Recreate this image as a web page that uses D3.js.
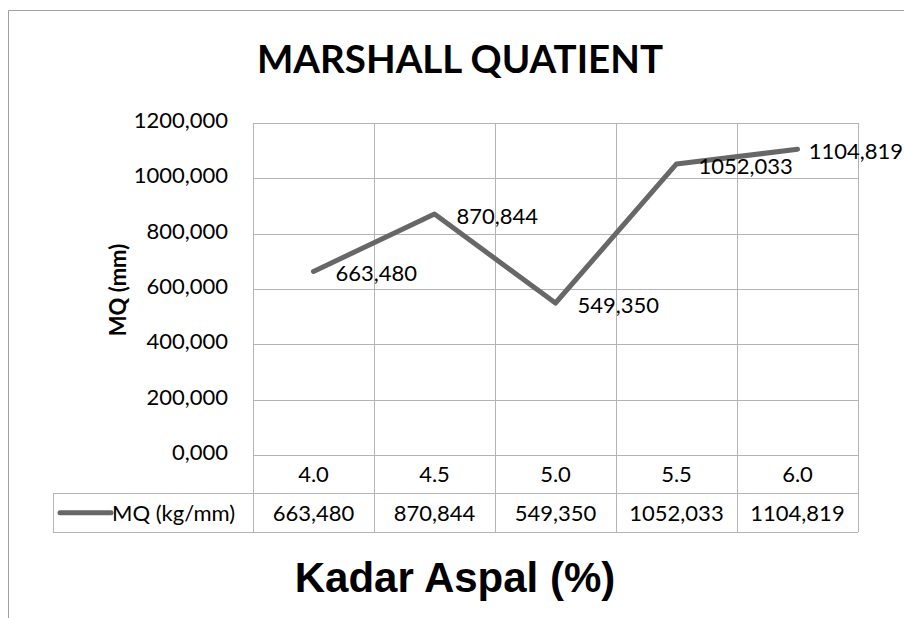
<!DOCTYPE html>
<html>
<head>
<meta charset="utf-8">
<script src="https://cdn.jsdelivr.net/npm/d3@7"></script>
<style>
  body { margin: 0; background: #fff; }
  svg { display: block; }
  text { font-family: Lato, "Open Sans", sans-serif; fill: #000; }
</style>
</head>
<body>
<div id="chart"></div>
<script>
// Chart data
const categories = ['4.0', '4.5', '5.0', '5.5', '6.0'];
const mqValues = [663.480, 870.844, 549.350, 1052.033, 1104.819];
const valueLabels = ['663,480', '870,844', '549,350', '1052,033', '1104,819'];
const yTicks = [0, 200, 400, 600, 800, 1000, 1200];
const seriesName = 'MQ (kg/mm)';

const W = 904, H = 618;
const plot = { left: 253, right: 858, top: 123, bottom: 455 };
const rowH = 38.5;
const legendLeft = 53;
const lineColor = '#676767';
const gridColor = '#b4b4b4';
const fontSize = 22;

// number format like "1200,000"
const fmt = v => d3.format('.3f')(v).replace('.', ',');

const svg = d3.select('#chart').append('svg')
    .attr('width', W)
    .attr('height', H);

// chart frame (only top and left edges visible)
svg.append('path')
    .attr('d', `M8.5,${H} V10.5 H${W}`)
    .attr('fill', 'none')
    .attr('stroke', '#a0a0a0')
    .attr('stroke-width', 1);

const x = d3.scaleBand()
    .domain(categories)
    .range([plot.left, plot.right])
    .paddingInner(0)
    .paddingOuter(0);

const y = d3.scaleLinear()
    .domain([0, 1200])
    .range([plot.bottom, plot.top]);

// horizontal gridlines + y labels
const yAxis = svg.append('g')
    .attr('transform', `translate(${plot.left},0)`)
    .call(d3.axisLeft(y)
        .tickValues(yTicks)
        .tickSize(-(plot.right - plot.left))
        .tickPadding(25)
        .tickFormat(fmt));
yAxis.select('.domain').remove();
yAxis.selectAll('.tick line').attr('stroke', gridColor).attr('shape-rendering', 'crispEdges');
yAxis.selectAll('.tick text')
    .attr('font-size', fontSize)
    .attr('dy', '0.2em')
    .style('font-family', 'Lato, sans-serif')
    .attr('fill', '#000');

// vertical gridlines (category boundaries), extended through the data table
const bounds = categories.map(c => x(c)).concat([plot.right]);
const tableBottom = plot.bottom + rowH * 2;
svg.append('g').selectAll('line')
    .data(bounds)
    .join('line')
    .attr('x1', d => d).attr('x2', d => d)
    .attr('y1', plot.top)
    .attr('y2', tableBottom)
    .attr('stroke', gridColor)
    .attr('shape-rendering', 'crispEdges');

// data table lines
const table = svg.append('g').attr('shape-rendering', 'crispEdges');
table.append('line')
    .attr('x1', plot.left).attr('x2', plot.right)
    .attr('y1', plot.bottom).attr('y2', plot.bottom)
    .attr('stroke', gridColor);
[plot.bottom + rowH, tableBottom].forEach(yy => {
    table.append('line')
        .attr('x1', legendLeft).attr('x2', plot.right)
        .attr('y1', yy).attr('y2', yy)
        .attr('stroke', gridColor);
});
table.append('line')
    .attr('x1', legendLeft).attr('x2', legendLeft)
    .attr('y1', plot.bottom + rowH).attr('y2', tableBottom)
    .attr('stroke', gridColor);

// category labels row
table.selectAll('text.cat')
    .data(categories)
    .join('text')
    .attr('class', 'cat')
    .attr('x', d => x(d) + x.bandwidth() / 2)
    .attr('y', plot.bottom + rowH / 2)
    .attr('dy', '0.36em')
    .attr('text-anchor', 'middle')
    .attr('font-size', fontSize)
    .text(d => d);

// value row
table.selectAll('text.val')
    .data(valueLabels)
    .join('text')
    .attr('class', 'val')
    .attr('x', (d, i) => x(categories[i]) + x.bandwidth() / 2)
    .attr('y', plot.bottom + rowH * 1.5)
    .attr('dy', '0.36em')
    .attr('text-anchor', 'middle')
    .attr('font-size', fontSize)
    .text(d => d);

// legend key in table
table.append('line')
    .attr('x1', legendLeft + 7).attr('x2', legendLeft + 58)
    .attr('y1', plot.bottom + rowH * 1.5).attr('y2', plot.bottom + rowH * 1.5)
    .attr('stroke', lineColor)
    .attr('stroke-width', 5)
    .attr('stroke-linecap', 'round')
    .attr('shape-rendering', 'auto');
table.append('text')
    .attr('x', legendLeft + 59)
    .attr('y', plot.bottom + rowH * 1.5)
    .attr('dy', '0.36em')
    .attr('font-size', fontSize)
    .text(seriesName);

// series line
const line = d3.line()
    .x((d, i) => x(categories[i]) + x.bandwidth() / 2)
    .y(d => y(d));

svg.append('path')
    .datum(mqValues)
    .attr('d', line)
    .attr('fill', 'none')
    .attr('stroke', lineColor)
    .attr('stroke-width', 5)
    .attr('stroke-linejoin', 'round')
    .attr('stroke-linecap', 'round');

// data labels, to the right of each point, kept inside the chart area
const labels = svg.append('g');
labels.selectAll('text')
    .data(mqValues)
    .join('text')
    .attr('y', d => y(d) + 2)
    .attr('dy', '0.36em')
    .attr('font-size', fontSize)
    .text((d, i) => valueLabels[i])
    .each(function (d, i) {
        const w = this.getComputedTextLength();
        const px = x(categories[i]) + x.bandwidth() / 2;
        d3.select(this).attr('x', Math.min(px + 22, W - w - 1));
    });

// title
svg.append('text')
    .attr('x', 460)
    .attr('y', 73)
    .attr('text-anchor', 'middle')
    .attr('font-size', 38.5)
    .attr('font-weight', 'bold')
    .text('MARSHALL QUATIENT');

// y axis title
svg.append('text')
    .attr('transform', 'translate(126,290) rotate(-90)')
    .attr('text-anchor', 'middle')
    .attr('font-size', 22)
    .attr('font-weight', 'bold')
    .text('MQ (mm)');

// x axis title
svg.append('text')
    .attr('x', 455)
    .attr('y', 592)
    .attr('text-anchor', 'middle')
    .attr('font-size', 42)
    .attr('font-weight', 'bold')
    .style('font-family', '"Liberation Sans", Arial, sans-serif')
    .text('Kadar Aspal (%)');
</script>
</body>
</html>
